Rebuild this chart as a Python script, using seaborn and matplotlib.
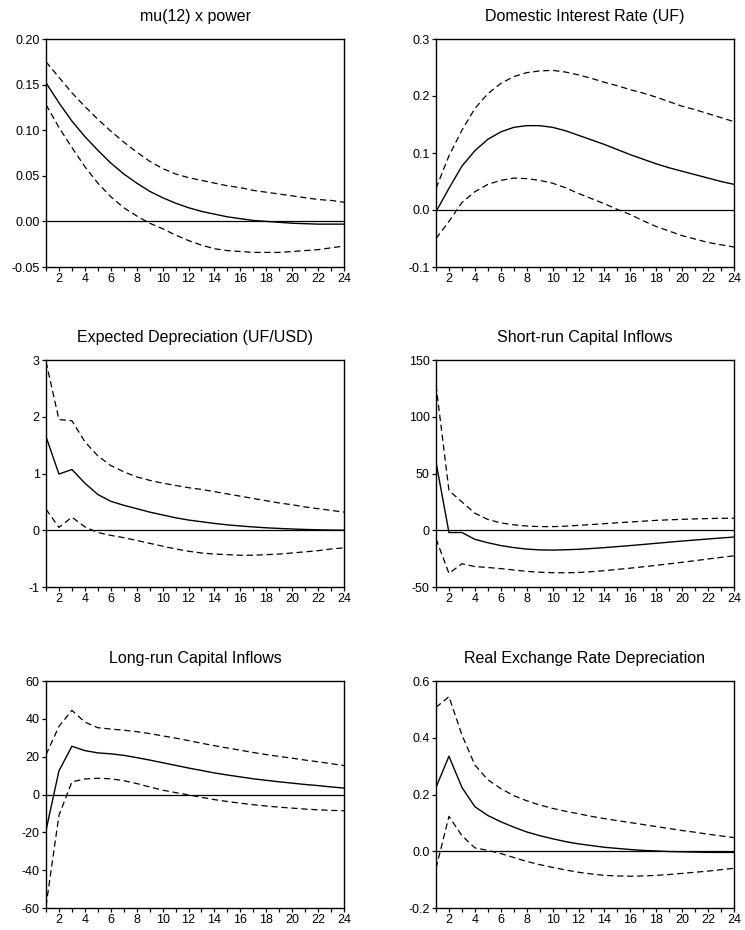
import numpy as np
import pandas as pd
import matplotlib
matplotlib.use("Agg")
import matplotlib.pyplot as plt
import seaborn as sns

sns.set_style("ticks")
plt.rcParams['font.family'] = ['Liberation Sans', 'DejaVu Sans']

periods = list(range(1, 25))

titles = ["mu(12) x power", "Domestic Interest Rate (UF)",
          "Expected Depreciation (UF/USD)", "Short-run Capital Inflows",
          "Long-run Capital Inflows", "Real Exchange Rate Depreciation"]

mu_resp = [0.152, 0.130, 0.110, 0.093, 0.078, 0.064, 0.052, 0.042, 0.033, 0.026, 0.020, 0.015,
           0.011, 0.008, 0.005, 0.003, 0.001, 0.000, -0.001, -0.002, -0.0025, -0.003, -0.003, -0.003]
mu_upper = [0.175, 0.158, 0.141, 0.126, 0.112, 0.099, 0.087, 0.076, 0.066, 0.058, 0.052, 0.048,
            0.045, 0.042, 0.039, 0.037, 0.034, 0.032, 0.030, 0.028, 0.026, 0.024, 0.023, 0.021]
mu_lower = [0.128, 0.103, 0.081, 0.060, 0.042, 0.027, 0.015, 0.006, -0.002, -0.008, -0.015, -0.021,
            -0.026, -0.030, -0.032, -0.033, -0.034, -0.034, -0.034, -0.033, -0.032, -0.031, -0.029, -0.027]

ir_resp = [-0.003, 0.038, 0.077, 0.104, 0.124, 0.137, 0.145, 0.148, 0.148, 0.145, 0.139, 0.131,
           0.123, 0.115, 0.106, 0.097, 0.089, 0.081, 0.074, 0.068, 0.062, 0.056, 0.050, 0.045]
ir_upper = [0.038, 0.095, 0.140, 0.178, 0.204, 0.222, 0.234, 0.241, 0.244, 0.245, 0.242, 0.237,
            0.231, 0.224, 0.218, 0.211, 0.205, 0.198, 0.190, 0.182, 0.176, 0.169, 0.162, 0.155]
ir_lower = [-0.050, -0.020, 0.013, 0.032, 0.045, 0.052, 0.056, 0.055, 0.052, 0.047, 0.039, 0.029,
            0.020, 0.011, 0.001, -0.008, -0.019, -0.029, -0.037, -0.045, -0.051, -0.057, -0.061, -0.065]

ed_resp = [1.65, 0.99, 1.07, 0.83, 0.63, 0.51, 0.44, 0.38, 0.32, 0.27, 0.22, 0.18,
           0.15, 0.12, 0.095, 0.075, 0.058, 0.043, 0.032, 0.022, 0.014, 0.008, 0.004, 0.001]
ed_upper = [2.97, 1.95, 1.93, 1.56, 1.31, 1.14, 1.03, 0.94, 0.88, 0.83, 0.79, 0.75,
            0.72, 0.68, 0.64, 0.60, 0.56, 0.52, 0.48, 0.45, 0.41, 0.38, 0.35, 0.32]
ed_lower = [0.37, 0.05, 0.23, 0.06, -0.04, -0.09, -0.13, -0.18, -0.23, -0.28, -0.33, -0.37,
            -0.40, -0.42, -0.43, -0.44, -0.44, -0.43, -0.42, -0.40, -0.38, -0.36, -0.33, -0.31]

sr_resp = [60, -2, -2, -8, -11, -13.5, -15.3, -16.6, -17.3, -17.5, -17.2, -16.8,
           -16.1, -15.3, -14.4, -13.5, -12.5, -11.5, -10.5, -9.5, -8.6, -7.7, -6.8, -6.0]
sr_upper = [128, 35, 25, 15, 9.5, 6.5, 4.8, 3.7, 3.2, 3.2, 3.6, 4.3,
            5.0, 5.8, 6.6, 7.3, 8.0, 8.7, 9.2, 9.6, 10.0, 10.3, 10.5, 10.6]
sr_lower = [-7.5, -38, -29.5, -32, -32.8, -33.8, -35, -36.2, -37, -37.4, -37.5, -37.2,
            -36.5, -35.6, -34.5, -33.4, -32.2, -30.9, -29.6, -28.2, -26.8, -25.3, -23.9, -22.5]

lr_resp = [-19, 12.5, 25.5, 23.2, 22.0, 21.5, 20.7, 19.5, 18.2, 16.8, 15.4, 14.0,
           12.7, 11.4, 10.3, 9.3, 8.3, 7.5, 6.7, 6.0, 5.3, 4.7, 4.0, 3.4]
lr_upper = [21, 36, 44.5, 38.3, 35.3, 34.6, 34.0, 33.2, 32.2, 31.0, 29.8, 28.5,
            27.1, 25.8, 24.6, 23.4, 22.2, 21.1, 20.1, 19.2, 18.2, 17.3, 16.3, 15.3]
lr_lower = [-59, -11, 6.7, 8.2, 8.6, 8.3, 7.3, 5.8, 4.0, 2.3, 1.0, -0.2,
            -1.5, -2.7, -3.7, -4.6, -5.4, -6.1, -6.7, -7.2, -7.7, -8.1, -8.4, -8.6]

rer_resp = [0.225, 0.335, 0.225, 0.157, 0.126, 0.104, 0.085, 0.068, 0.055, 0.044, 0.034, 0.026,
            0.020, 0.014, 0.010, 0.006, 0.003, 0.001, -0.001, -0.002, -0.003, -0.004, -0.004, -0.004]
rer_upper = [0.507, 0.545, 0.41, 0.304, 0.252, 0.221, 0.196, 0.178, 0.163, 0.151, 0.141, 0.132,
             0.123, 0.115, 0.108, 0.101, 0.094, 0.087, 0.080, 0.073, 0.067, 0.060, 0.054, 0.048]
rer_lower = [-0.060, 0.123, 0.055, 0.012, 0.003, -0.008, -0.022, -0.036, -0.047, -0.057, -0.066, -0.074,
             -0.080, -0.085, -0.087, -0.088, -0.087, -0.085, -0.082, -0.078, -0.074, -0.070, -0.065, -0.060]

yticks = [
    [-0.05, 0.00, 0.05, 0.10, 0.15, 0.20],
    [-0.1, 0.0, 0.1, 0.2, 0.3],
    [-1, 0, 1, 2, 3],
    [-50, 0, 50, 100, 150],
    [-60, -40, -20, 0, 20, 40, 60],
    [-0.2, 0.0, 0.2, 0.4, 0.6],
]
yfmt = ["{:.2f}", "{:.1f}", "{:.0f}", "{:.0f}", "{:.0f}", "{:.1f}"]

series = [
    (mu_resp, mu_upper, mu_lower),
    (ir_resp, ir_upper, ir_lower),
    (ed_resp, ed_upper, ed_lower),
    (sr_resp, sr_upper, sr_lower),
    (lr_resp, lr_upper, lr_lower),
    (rer_resp, rer_upper, rer_lower),
]

W, H = 745, 930
fig = plt.figure(figsize=(W / 100, H / 100), dpi=100)

lefts = [46, 436]
rows = [(39, 267), (360, 587), (681, 908)]
pw = 298

for i in range(6):
    r, c = divmod(i, 2)
    top, bot = rows[r]
    ax = fig.add_axes([lefts[c] / W, 1 - bot / H, pw / W, (bot - top) / H])
    resp, up, lo = series[i]
    df = pd.DataFrame({"period": periods * 3,
                       "value": list(resp) + list(up) + list(lo),
                       "band": ["resp"] * 24 + ["upper"] * 24 + ["lower"] * 24})
    ax.axhline(0, color="black", lw=0.9, zorder=1)
    sns.lineplot(data=df[df.band == "resp"], x="period", y="value", ax=ax,
                 color="black", lw=1.0, zorder=3)
    for b in ["upper", "lower"]:
        sns.lineplot(data=df[df.band == b], x="period", y="value", ax=ax,
                     color="black", lw=0.9, dashes=False, zorder=2)
        ax.lines[-1].set_linestyle((0, (5, 3)))
    ax.set_xlim(1, 24)
    ax.set_ylim(yticks[i][0], yticks[i][-1])
    ax.set_xticks(periods)
    ax.set_xticklabels([str(p) if p % 2 == 0 else "" for p in periods])
    ax.set_yticks(yticks[i])
    ax.set_yticklabels([yfmt[i].format(v) for v in yticks[i]])
    ax.tick_params(axis="both", direction="out", length=3, width=0.9,
                   labelsize=9, pad=1.5, color="black", labelcolor="black")
    ax.set_xlabel("")
    ax.set_ylabel("")
    for s in ax.spines.values():
        s.set_visible(True)
        s.set_linewidth(1.0)
        s.set_color("black")
    ax.set_title(titles[i], fontsize=11.5, pad=13, color="black")

fig.savefig("out.png", dpi=100)
